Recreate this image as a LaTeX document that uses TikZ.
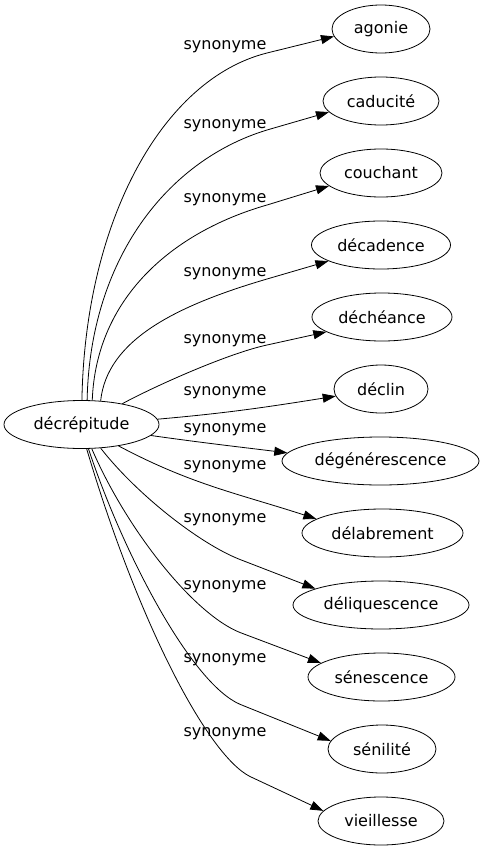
\documentclass[tikz,border=0pt]{standalone}
\usepackage{fontspec}
\setmainfont{DejaVu Sans}
\usetikzlibrary{arrows.meta,shapes.geometric}
\begin{document}
\begin{tikzpicture}[x=1pt,y=-1pt,
  word/.style={draw,ellipse,line width=0.8pt,inner sep=0pt,minimum height=48pt,font=\fontsize{16}{19}\selectfont},
  lab/.style={font=\fontsize{16}{19}\selectfont,inner sep=0pt},
  edge/.style={line width=0.8pt,-{Triangle[length=13pt,width=9pt]}}]
\useasboundingbox (0,0) rectangle (485,851);
\node[word,minimum width=155pt] (c) at (81.5,424.5) {décrépitude};
\node[word,minimum width=98pt] (n1) at (381,29) {agonie};
\node[word,minimum width=116pt] (n2) at (381,101) {caducité};
\node[word,minimum width=122pt] (n3) at (381,173) {couchant};
\node[word,minimum width=139pt] (n4) at (381,245) {décadence};
\node[word,minimum width=140pt] (n5) at (382,317) {déchéance};
\node[word,minimum width=94pt] (n6) at (381,389) {déclin};
\node[word,minimum width=197pt] (n7) at (380.5,461) {dégénérescence};
\node[word,minimum width=161pt] (n8) at (382.5,533) {délabrement};
\node[word,minimum width=176pt] (n9) at (381,605) {déliquescence};
\node[word,minimum width=147pt] (n10) at (381.5,677) {sénescence};
\node[word,minimum width=108pt] (n11) at (382,749) {sénilité};
\node[word,minimum width=126pt] (n12) at (381,821) {vieillesse};
\draw[edge] (c.89) .. controls (85,220) and (163,79) .. (267,53) -- (n1.189);
\draw[edge] (c.77) .. controls (90,260) and (166.5,160.5) .. (267,130) -- (n2.192);
\draw[edge] (c.66) .. controls (96,299) and (171,232.5) .. (267,205) -- (n3.194.5);
\draw[edge] (c.51) .. controls (107,340) and (176,305.7) .. (267,279) -- (n4.197);
\draw[edge] (c.27) .. controls (155,386) and (228,353.4) .. (267,345) -- (n5.195);
\draw[edge] (c.4) to[out=5,in=189] (n6.189);
\draw[edge] (c.-9) to[out=-8,in=173] (n7.175);
\draw[edge] (c.-30) to[out=-28,in=162] (n8.168);
\draw[edge] (c.-51.5) .. controls (136,493.5) and (198.75,543.3) .. (240,559.5) -- (n9.166);
\draw[edge] (c.-67) .. controls (127,530.4) and (193.8,614.1) .. (240,632.5) -- (n10.167.6);
\draw[edge] (c.-74) .. controls (122.9,552.9) and (191,683.2) .. (240,704.3) -- (n11.171.3);
\draw[edge] (c.-78) .. controls (138,622) and (207.4,755) .. (250,776.5) -- (n12.170.2);
\node[lab] (l1) at (225,47) {synonyme};
\node[lab] (l2) at (225,126) {synonyme};
\node[lab] (l3) at (225,200) {synonyme};
\node[lab] (l4) at (225,274) {synonyme};
\node[lab] (l5) at (225,341) {synonyme};
\node[lab] (l6) at (225,393) {synonyme};
\node[lab] (l7) at (225,430) {synonyme};
\node[lab] (l8) at (225,467) {synonyme};
\node[lab] (l9) at (225,520) {synonyme};
\node[lab] (l10) at (225,587) {synonyme};
\node[lab] (l11) at (225,660) {synonyme};
\node[lab] (l12) at (225,734) {synonyme};
\end{tikzpicture}
\end{document}
